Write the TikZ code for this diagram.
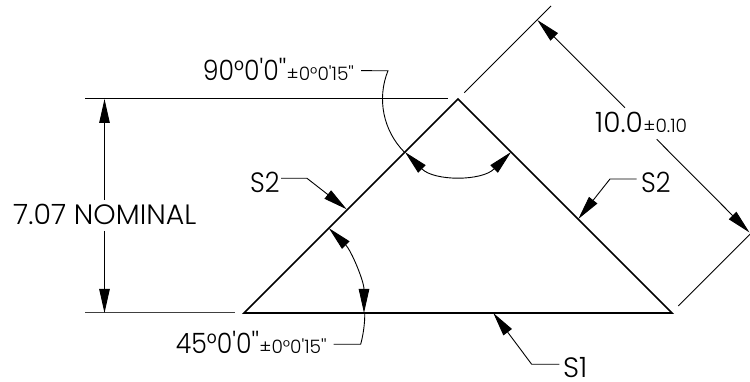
\documentclass[tikz,border=0pt]{standalone}
\usepackage{fontspec}
\setmainfont{Poppins Light}[Ligatures=TeXOff]
\usetikzlibrary{arrows.meta,calc}
\tikzset{
  objline/.style={line width=1.7pt,black,line join=miter},
  dimline/.style={line width=0.9pt,black},
  extline/.style={line width=1pt,black},
  dimtip/.style={-{Triangle[length=24pt,width=10.5pt]}},
  bothtip/.style={{Triangle[length=24pt,width=10.5pt]}-{Triangle[length=24pt,width=10.5pt]}},
  mainlabel/.style={inner sep=0pt,anchor=base west,font=\fontsize{28}{28}\selectfont},
  tol/.style={inner sep=0pt,anchor=base west,font=\fontsize{18.5}{19}\selectfont},
}
\begin{document}
\begin{tikzpicture}[x=1pt,y=1pt]
\useasboundingbox (0,0) rectangle (750,382);
% reference pixel (x,y) -> (x, 382-y)
\coordinate (A) at (458,283);
\coordinate (L) at (244,69);
\coordinate (R) at (672,69);
\draw[objline] (L) -- (A) -- (R) -- cycle;

% height dimension
\coordinate (e1a) at (85,283); \coordinate (e1b) at (448,283);
\coordinate (e2a) at (85,69); \coordinate (e2b) at (235,69);
\draw[extline] (e1a) -- (e1b);
\draw[extline,black!75] (e2a) -- (e2b);
\node[mainlabel] (nom) at (13,157) {\scalebox{1.015}[1]{7.07 NOMINAL}};
\coordinate (h1) at (104.5,283); \coordinate (h1e) at (104.5,182);
\coordinate (h2) at (104.5,69); \coordinate (h2e) at (104.5,151);
\draw[dimline,dimtip] (h1e) -- (h1);
\draw[dimline,dimtip] (h2e) -- (h2);

% 10.0 dimension
\coordinate (x1a) at (464.3,289.3); \coordinate (x1b) at (551,376);
\coordinate (x2a) at (678.3,76); \coordinate (x2b) at (752,149.7);
\draw[dimline] (x1a) -- (x1b);
\draw[dimline] (x2a) -- (x2b);
\node[mainlabel] (ten) at (595,249) {10.0};
\node[tol] (tent) at (ten.base east) {±0.10};
\coordinate (d1) at (537.3,362); \coordinate (d1e) at (625,274.3);
\coordinate (d2) at (749.5,149.5); \coordinate (d2e) at (656.7,242.7);
\draw[dimline,dimtip] (d1e) -- (d1);
\draw[dimline,dimtip] (d2e) -- (d2);

% 90 degree angle
\node[mainlabel] (ang) at (202.7,301) {\scalebox{0.9}[1]{90°0'0''}};
\node[tol] (angt) at (ang.base east) {±0°0'15''};
\coordinate (a1) at ($(A)+(225:75)$);
\coordinate (a2) at ($(A)+(158:75.5)$);
\coordinate (a2e) at (361,311.3);
\draw[dimline,bothtip] (a1) arc[start angle=225,end angle=315,radius=75];
\draw[dimline] (a2e) -- (a2) arc[start angle=158,end angle=225,radius=75.5];

% 45 degree angle
\node[mainlabel] (ang2) at (175.7,28) {\scalebox{0.9}[1]{45°0'0''}};
\node[tol] (ang2t) at (ang2.base east) {±0°0'15''};
\coordinate (b1) at ($(L)+(0:120)$);
\coordinate (b2) at ($(L)+(-15:120.8)$);
\coordinate (b2e) at (333.5,37.7);
\draw[dimline,bothtip] (b1) arc[start angle=0,end angle=45,radius=120];
\draw[dimline] (b2e) -- (b2) arc[start angle=-15,end angle=0,radius=120.8];

% S2 left
\node[mainlabel] (s2l) at (250,189) {\scalebox{0.92}[1]{S2}};
\coordinate (s2lk) at (307,203.7); \coordinate (s2lt) at (346.7,172.7); \coordinate (s2ls) at (281,203.7);
\draw[dimline,dimtip] (s2ls) -- (s2lk) -- (s2lt);

% S2 right
\node[mainlabel] (s2r) at (641,189) {\scalebox{0.92}[1]{S2}};
\coordinate (s2rk) at (610,203); \coordinate (s2rt) at (578.3,163); \coordinate (s2rs) at (636.7,203);
\draw[dimline,dimtip] (s2rs) -- (s2rk) -- (s2rt);

% S1
\node[mainlabel] (s1) at (563,4.5) {S1};
\coordinate (s1k) at (531.7,17.7); \coordinate (s1t) at (493.3,69); \coordinate (s1s) at (559.3,17.7);
\draw[dimline,dimtip] (s1s) -- (s1k) -- (s1t);
\end{tikzpicture}
\end{document}
